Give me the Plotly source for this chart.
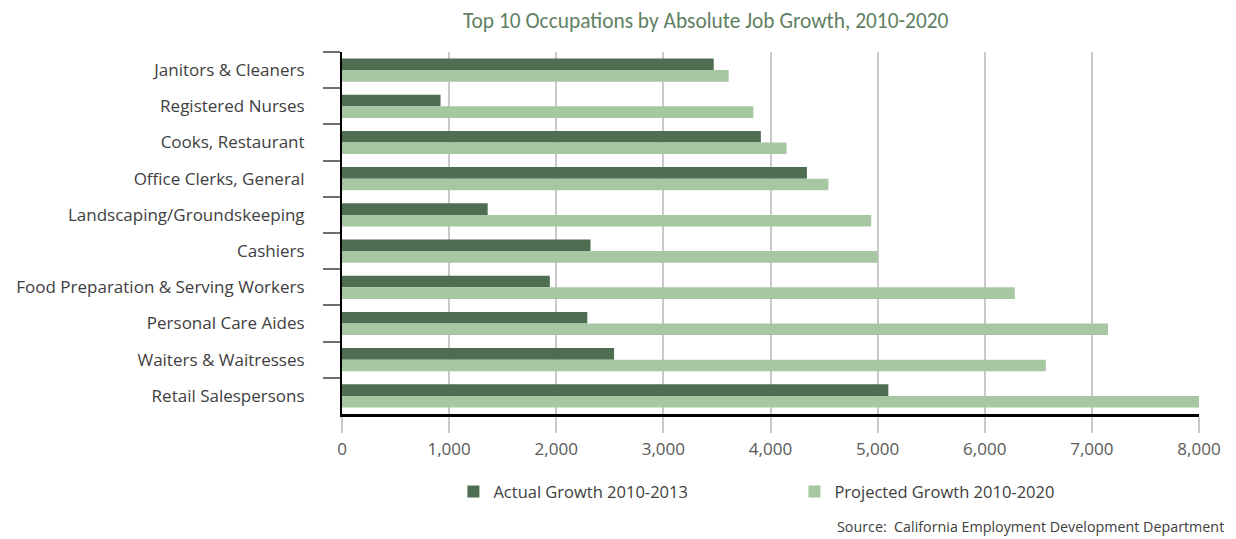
import plotly.graph_objects as go

categories = ["Janitors & Cleaners", "Registered Nurses", "Cooks, Restaurant",
              "Office Clerks, General", "Landscaping/Groundskeeping", "Cashiers",
              "Food Preparation & Serving Workers", "Personal Care Aides",
              "Waiters & Waitresses", "Retail Salespersons"]
actual_2010_2013 = [3470, 920, 3910, 4340, 1360, 2320, 1940, 2290, 2540, 5100]
projected_2010_2020 = [3610, 3840, 4150, 4540, 4940, 5000, 6280, 7150, 6570, 8000]
x_ticks = [0, 1000, 2000, 3000, 4000, 5000, 6000, 7000, 8000]
x_tick_text = ["0", "1,000", "2,000", "3,000", "4,000", "5,000", "6,000", "7,000", "8,000"]

DARK = "#4f6d51"
LIGHT = "#a7c7a2"
SANS = "Open Sans, sans-serif"

fig = go.Figure()
fig.add_trace(go.Bar(y=categories, x=actual_2010_2013, orientation="h",
                     name="Actual Growth 2010-2013", marker=dict(color=DARK, line=dict(width=0))))
fig.add_trace(go.Bar(y=categories, x=projected_2010_2020, orientation="h",
                     name="Projected Growth 2010-2020", marker=dict(color=LIGHT, line=dict(width=0))))

fig.update_layout(
    width=1236, height=539,
    paper_bgcolor="white", plot_bgcolor="white",
    margin=dict(l=342, r=37, t=52, b=125),
    barmode="group", bargap=0.36, bargroupgap=0,
    title=dict(text="Top 10 Occupations by Absolute Job Growth, 2010-2020",
               x=0.571, xanchor="center", y=0.962, yanchor="middle",
               font=dict(family="Carlito, Lato, sans-serif", size=21.4, color="#5f7f62")),
    legend=dict(orientation="h", x=0.13, xanchor="left", y=-0.215, yanchor="middle",
                entrywidth=296, entrywidthmode="pixels",
                font=dict(family=SANS, size=16.5, color="#404040"),
                traceorder="normal", itemclick=False),
    showlegend=True,
)
fig.update_xaxes(range=[0, 8000], tickvals=x_ticks, ticktext=x_tick_text,
                 showgrid=True, gridcolor="#c9c9c9", gridwidth=2,
                 showline=True, linecolor="black", linewidth=3,
                 ticks="outside", ticklen=16, tickwidth=2, tickcolor="#c9c9c9",
                 ticklabelstandoff=2,
                 zeroline=False, tickfont=dict(family=SANS, size=17, color="#595959"))
fig.update_yaxes(autorange="reversed", showline=True, linecolor="black", linewidth=2,
                 ticks="outside", tickson="boundaries", ticklen=17, tickwidth=2, tickcolor="#6f6f6f",
                 ticklabelstandoff=32, showgrid=False,
                 tickfont=dict(family=SANS, size=17, color="#404040"))

fig.add_annotation(text="Source:  California Employment Development Department",
                   xref="paper", yref="paper", x=1.032, y=-0.312, xanchor="right", yanchor="middle",
                   showarrow=False, font=dict(family=SANS, size=14.3, color="#404040"))

fig.write_html("out.html")
